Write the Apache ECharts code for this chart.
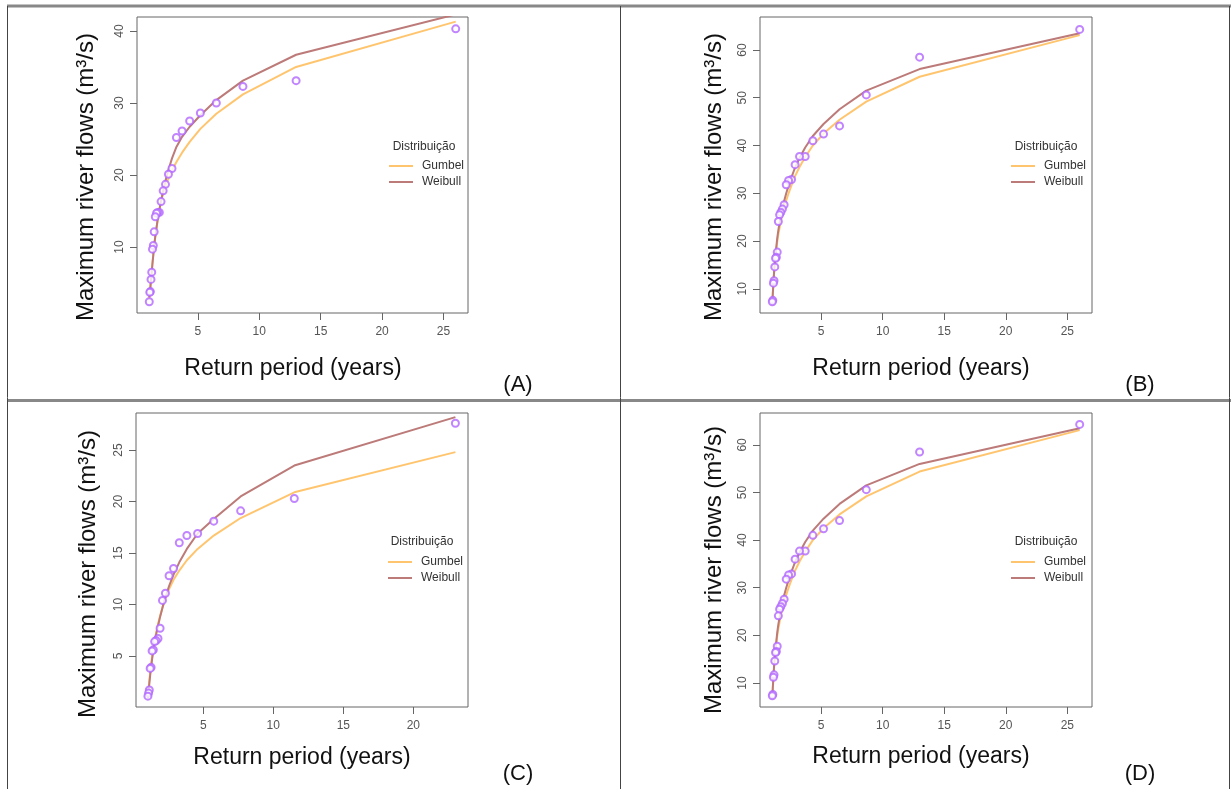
<!DOCTYPE html>
<html>
<head>
<meta charset="utf-8">
<script src="https://cdn.jsdelivr.net/npm/echarts@6/dist/echarts.min.js"></script>
<style>
html,body{margin:0;padding:0;background:#fff;}
#chart{width:1231px;height:789px;}
</style>
</head>
<body>
<div id="chart"></div>
<script>
// ---- Panel A ----
const retA = [26, 13, 8.67, 6.5, 5.2, 4.33, 3.71, 3.25, 2.89, 2.6, 2.36, 2.17, 2.0, 1.86, 1.73, 1.63, 1.53, 1.44, 1.37, 1.3, 1.24, 1.18, 1.13, 1.08, 1.04];
const obsA = [40.3, 33.1, 32.3, 30.0, 28.6, 27.5, 26.1, 25.2, 20.9, 20.1, 18.7, 17.8, 16.3, 14.8, 14.8, 14.7, 14.2, 12.1, 10.2, 9.7, 6.5, 5.5, 3.8, 3.7, 2.4];
const gumA = [41.3, 35.0, 31.2, 28.5, 26.4, 24.6, 23.1, 21.8, 20.6, 19.5, 18.4, 17.4, 16.4, 15.0, 13.8, 12.6, 11.4, 10.2, 9.0, 7.8, 6.6, 5.5, 4.4, 3.5, 2.8];
const weiA = [42.3, 36.7, 33.1, 30.4, 28.3, 26.7, 25.3, 23.9, 22.3, 20.7, 19.2, 17.8, 16.4, 15.2, 13.9, 12.7, 11.5, 10.2, 8.9, 7.7, 6.5, 5.4, 4.4, 3.6, 3.0];

// ---- Panel B (same data shown again in panel D) ----
const retB = [26, 13, 8.67, 6.5, 5.2, 4.33, 3.71, 3.25, 2.89, 2.6, 2.36, 2.17, 2.0, 1.86, 1.73, 1.63, 1.53, 1.44, 1.37, 1.3, 1.24, 1.18, 1.13, 1.08, 1.04];
const obsB = [64.3, 58.5, 50.6, 44.1, 42.4, 41.0, 37.7, 37.7, 36.0, 32.9, 32.7, 31.8, 27.6, 26.7, 26.0, 25.5, 24.1, 17.7, 16.6, 16.4, 14.6, 11.7, 11.2, 7.6, 7.3];
const gumB = [63.1, 54.4, 49.2, 45.4, 42.5, 40.0, 37.6, 35.5, 33.6, 31.7, 30.0, 28.5, 27.0, 25.6, 24.2, 22.8, 21.4, 19.9, 18.4, 16.8, 15.1, 13.2, 11.1, 8.8, 6.5];
const weiB = [63.5, 56.0, 51.5, 47.6, 44.5, 42.0, 39.6, 37.4, 35.4, 33.4, 31.6, 30.0, 28.4, 26.9, 25.3, 23.8, 22.3, 20.6, 18.9, 17.2, 15.4, 13.4, 11.3, 9.0, 6.8];

// ---- Panel C ----
const retC = [23, 11.5, 7.67, 5.75, 4.6, 3.83, 3.29, 2.88, 2.56, 2.3, 2.09, 1.92, 1.77, 1.64, 1.53, 1.44, 1.35, 1.28, 1.21, 1.15, 1.1, 1.05];
const obsC = [27.6, 20.3, 19.1, 18.1, 16.9, 16.7, 16.0, 13.5, 12.8, 11.1, 10.4, 7.7, 6.7, 6.5, 6.4, 5.6, 5.5, 3.9, 3.8, 1.7, 1.4, 1.1];
const gumC = [24.8, 20.9, 18.4, 16.7, 15.4, 14.3, 13.3, 12.4, 11.5, 10.6, 9.7, 8.9, 8.1, 7.3, 6.5, 5.8, 5.0, 4.2, 3.4, 2.6, 1.8, 0.9];
const weiC = [28.2, 23.5, 20.5, 18.3, 16.9, 15.4, 14.1, 12.9, 11.8, 10.7, 9.7, 8.8, 7.9, 7.1, 6.3, 5.5, 4.7, 3.9, 3.1, 2.3, 1.6, 0.9];

// ---- Tick labels ----
const xTicksABD = [5, 10, 15, 20, 25];
const xTicksC = [5, 10, 15, 20];
const yTicksA = [10, 20, 30, 40];
const yTicksBD = [10, 20, 30, 40, 50, 60];
const yTicksC = [5, 10, 15, 20, 25];

const panelLetters = ['(A)', '(B)', '(C)', '(D)'];
const seriesNames = ['Gumbel', 'Weibull'];
const legendTitle = 'Distribuição';
const xTitle = 'Return period (years)';
const yTitle = 'Maximum river flows (m³/s)';

const panels = [
  {ret: retA, obs: obsA, gum: gumA, wei: weiA, xt: xTicksABD, yt: yTicksA,
   xmin: 0.04, xmax: 27, ymin: 0.83, ymax: 41.94,
   grid: {left: 137, top: 17, width: 331, height: 296},
   yTitlePos: [86, 177], xTitlePos: [293, 369], letterPos: [518, 385],
   legTitle: [424, 147], legPos: [389, 159]},
  {ret: retB, obs: obsB, gum: gumB, wei: weiB, xt: xTicksABD, yt: yTicksBD,
   xmin: 0.04, xmax: 27, ymin: 4.95, ymax: 66.9,
   grid: {left: 760, top: 17, width: 332, height: 296},
   yTitlePos: [714, 177], xTitlePos: [921, 369], letterPos: [1140, 385],
   legTitle: [1046, 147], legPos: [1011, 159]},
  {ret: retC, obs: obsC, gum: gumC, wei: weiC, xt: xTicksC, yt: yTicksC,
   xmin: 0.2, xmax: 23.9, ymin: 0.05, ymax: 28.6,
   grid: {left: 136, top: 413, width: 332, height: 294},
   yTitlePos: [88, 574], xTitlePos: [302, 758], letterPos: [518, 774],
   legTitle: [422, 542], legPos: [388, 555]},
  {ret: retB, obs: obsB, gum: gumB, wei: weiB, xt: xTicksABD, yt: yTicksBD,
   xmin: 0.04, xmax: 27, ymin: 4.95, ymax: 66.7,
   grid: {left: 760, top: 413, width: 332, height: 294},
   yTitlePos: [714, 570], xTitlePos: [921, 757], letterPos: [1140, 774],
   legTitle: [1046, 542], legPos: [1011, 555]}
];

const FONT = 'Liberation Sans, Arial, sans-serif';
const ORANGE = '#FFC56E';
const BROWN = '#BC7A78';
const PURPLE = '#B266FF';

const grids = [], xAxes = [], yAxes = [], series = [], legends = [], graphics = [];

panels.forEach((p, i) => {
  grids.push(Object.assign({show: true, borderColor: '#666', borderWidth: 1, backgroundColor: 'transparent', containLabel: false}, p.grid));
  xAxes.push({
    type: 'value', gridIndex: i, min: p.xmin, max: p.xmax,
    axisLine: {show: false}, splitLine: {show: false},
    axisTick: {show: true, inside: false, length: 7, customValues: p.xt, lineStyle: {color: '#666'}},
    axisLabel: {show: true, customValues: p.xt, margin: 13, fontSize: 12, color: '#555', fontFamily: FONT}
  });
  yAxes.push({
    type: 'value', gridIndex: i, min: p.ymin, max: p.ymax,
    axisLine: {show: false}, splitLine: {show: false},
    axisTick: {show: true, inside: false, length: 7, customValues: p.yt, lineStyle: {color: '#666'}},
    axisLabel: {show: true, customValues: p.yt, rotate: 90, margin: 11, fontSize: 12, color: '#555', fontFamily: FONT}
  });
  series.push({
    name: seriesNames[0], type: 'line', xAxisIndex: i, yAxisIndex: i, symbol: 'none', clip: true,
    lineStyle: {color: ORANGE, width: 2}, itemStyle: {color: ORANGE}, z: 2,
    data: p.ret.map((t, k) => [t, p.gum[k]])
  });
  series.push({
    name: seriesNames[1], type: 'line', xAxisIndex: i, yAxisIndex: i, symbol: 'none', clip: true,
    lineStyle: {color: BROWN, width: 2}, itemStyle: {color: BROWN}, z: 3,
    data: p.ret.map((t, k) => [t, p.wei[k]])
  });
  series.push({
    name: 'obs', type: 'scatter', xAxisIndex: i, yAxisIndex: i, symbol: 'emptyCircle', symbolSize: 7,
    itemStyle: {color: PURPLE, borderColor: PURPLE, borderWidth: 1.5}, z: 4,
    data: p.ret.map((t, k) => [t, p.obs[k]])
  });
  legends.push({
    data: seriesNames, orient: 'vertical', left: p.legPos[0], top: p.legPos[1],
    icon: 'rect', itemWidth: 24, itemHeight: 2, itemGap: 2, padding: 0, selectedMode: false,
    textStyle: {fontSize: 12, lineHeight: 14, color: '#333', fontFamily: FONT, padding: [0, 0, 0, 4]}
  });
  graphics.push({type: 'text', x: p.legTitle[0], y: p.legTitle[1],
    style: {text: legendTitle, fontSize: 12, fill: '#333', fontFamily: FONT, align: 'center', verticalAlign: 'middle'}});
  graphics.push({type: 'text', x: p.yTitlePos[0], y: p.yTitlePos[1], rotation: Math.PI / 2,
    style: {text: yTitle, fontSize: 24, fill: '#111', fontFamily: FONT, align: 'center', verticalAlign: 'middle'}});
  graphics.push({type: 'text', x: p.xTitlePos[0], y: p.xTitlePos[1],
    style: {text: xTitle, fontSize: 23, fill: '#111', fontFamily: FONT, align: 'center', verticalAlign: 'middle'}});
  graphics.push({type: 'text', x: p.letterPos[0], y: p.letterPos[1],
    style: {text: panelLetters[i], fontSize: 22, fill: '#111', fontFamily: FONT, align: 'center', verticalAlign: 'middle'}});
});

// table frame lines
graphics.push({type: 'line', shape: {x1: 7, y1: 6, x2: 1231, y2: 6}, style: {stroke: '#888', lineWidth: 3}});
graphics.push({type: 'line', shape: {x1: 7, y1: 400.5, x2: 1231, y2: 400.5}, style: {stroke: '#888', lineWidth: 3}});
graphics.push({type: 'line', shape: {x1: 7.5, y1: 6, x2: 7.5, y2: 789}, style: {stroke: '#444', lineWidth: 1}});
graphics.push({type: 'line', shape: {x1: 620.5, y1: 6, x2: 620.5, y2: 789}, style: {stroke: '#444', lineWidth: 1}});
graphics.push({type: 'line', shape: {x1: 1229.5, y1: 6, x2: 1229.5, y2: 789}, style: {stroke: '#444', lineWidth: 1}});

const chart = echarts.init(document.getElementById('chart'), null, {renderer: 'canvas'});
chart.setOption({
  animation: false,
  backgroundColor: '#fff',
  grid: grids, xAxis: xAxes, yAxis: yAxes, series: series, legend: legends,
  graphic: {elements: graphics}
});
</script>
</body>
</html>
